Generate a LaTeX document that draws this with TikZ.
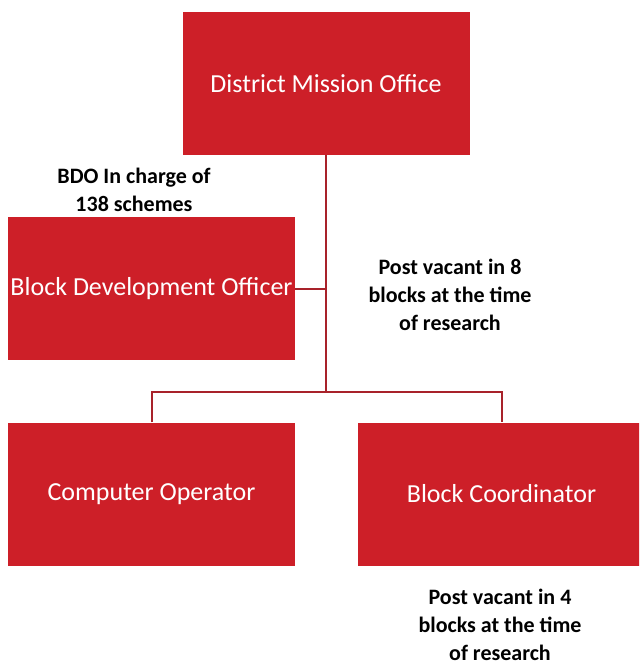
\documentclass[tikz,border=0pt]{standalone}
\usepackage{fontspec}
\setmainfont{Carlito}
\definecolor{boxred}{HTML}{CD1F28}
\definecolor{linkred}{HTML}{A8222A}
\begin{document}
\begin{tikzpicture}[x=1pt,y=-1pt,
  unit/.style={fill=boxred, draw=none, text=white, minimum width=287pt, minimum height=143pt,
    inner sep=0pt, font=\fontsize{26}{30}\selectfont},
  link/.style={draw=linkred, line width=2pt},
  note/.style={align=center, inner sep=0pt, font=\fontsize{22}{28}\selectfont\bfseries}]
\useasboundingbox (0,0) rectangle (639,668);
\begin{scope}
\clip (0,0) rectangle (639,668);
\node[unit] (dmo) at (326,83.5) {District Mission Office};
\node[unit] (bdo) at (151.5,288.5) {Block Development Officer};
\node[unit] (co)  at (151.5,494) {Computer Operator};
\node[unit] (bc)  at (501.5,494) {Block Coordinator};
\end{scope}
\coordinate (bus) at (326,392);
\draw[link] (dmo.south) -- (bus);
\draw[link] (bdo.east) -- (bdo.east -| bus);
\draw[link] (co.north) |- (bus) -| (bc.north);
\node[note] (n1) at (134,190) {BDO In charge of\\138 schemes};
\node[note] (n2) at (450,295) {Post vacant in 8\\blocks at the time\\of research};
\node[note] (n3) at (500,625) {Post vacant in 4\\blocks at the time\\of research};
\end{tikzpicture}
\end{document}
